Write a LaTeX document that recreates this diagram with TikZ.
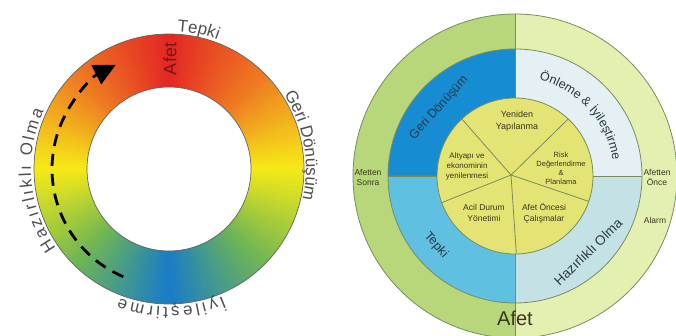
\documentclass[tikz,border=0pt]{standalone}
\usepackage{fontspec}
\setmainfont{Liberation Sans}
\usetikzlibrary{arrows.meta,decorations.text,calc}
\definecolor{rc0}{RGB}{228,38,36}
\definecolor{rc1}{RGB}{238,122,34}
\definecolor{rc2}{RGB}{246,234,22}
\definecolor{rc3}{RGB}{112,182,84}
\definecolor{rc4}{RGB}{24,124,200}
\definecolor{lblgray}{RGB}{78,78,84}
\definecolor{afetred}{RGB}{120,22,26}
\definecolor{ringedge}{RGB}{100,100,100}
\definecolor{outgreen}{RGB}{184,215,122}
\definecolor{outlight}{RGB}{228,240,178}
\definecolor{qblue}{RGB}{22,140,210}
\definecolor{qlblue}{RGB}{96,192,226}
\definecolor{qpale}{RGB}{228,240,244}
\definecolor{qpale2}{RGB}{196,226,230}
\definecolor{pieyellow}{RGB}{228,228,116}
\definecolor{rline}{RGB}{120,140,96}
\definecolor{pietext}{RGB}{58,54,32}
\definecolor{ringtext}{RGB}{44,56,66}
\newcommand\biglbl{\fontsize{17}{17}\selectfont\color{lblgray}}
\newcommand\ringlbl{\fontsize{12.5}{12.5}\selectfont\color{ringtext}}
\tikzset{
  ringline/.style={draw=ringedge, line width=0.7pt},
  cyclearrow/.style={line width=2.8pt, dash pattern=on 12pt off 8pt, -{Triangle[length=22pt,width=21pt]}},
  sepline/.style={draw=rline, line width=0.8pt},
  pietxt/.style={text=pietext, align=center, inner sep=0pt, font=\fontsize{8}{10}\selectfont},
  pietxtb/.style={text=pietext, align=center, inner sep=0pt, font=\fontsize{9}{11.5}\selectfont},
  outtxt/.style={text=pietext, align=center, inner sep=0pt, font=\fontsize{8.5}{10}\selectfont},
  ringtxt/.style={text=ringtext, inner sep=0pt, font=\fontsize{12.5}{12.5}\selectfont},
}
\begin{document}
\begin{tikzpicture}[x=1pt,y=1pt]
\useasboundingbox (0,0) rectangle (676,336);
% ---------------- left: gradient cycle ----------------
\begin{scope}[shift={(169,167)}]
\foreach \wA in {0,2,...,358}{
  \pgfmathsetmacro\wE{\wA+1-90}
  \pgfmathsetmacro\wD{ifthenelse(\wE>180,360-\wE,abs(\wE))}
  \pgfmathtruncatemacro\wK{min(3,floor(\wD/45))}
  \pgfmathtruncatemacro\wKK{\wK+1}
  \pgfmathtruncatemacro\wT{round((\wD-45*\wK)/45*100)}
  \pgfmathsetmacro\wB{\wA+2.4}
  \colorlet{wedgecol}{rc\wKK!\wT!rc\wK}
  \fill[wedgecol] (\wA:135) arc[start angle=\wA,end angle=\wB,radius=135] -- (\wB:82) arc[start angle=\wB,end angle=\wA,radius=82] -- cycle;
}
\draw[ringline] (0,0) circle[radius=135];
\draw[ringline] (0,0) circle[radius=82];
\draw[cyclearrow] (247:117) arc[start angle=247,end angle=117,radius=117];
\node[rotate=90, text=afetred, font=\fontsize{18}{18}\selectfont, inner sep=0pt] (lafet) at (1,110) {Afet};
\path[decorate,decoration={text along path,text align=center,text format delimiters={|}{|},text={|\biglbl|Tepki}}]
  (118:138) arc[start angle=118,end angle=38,radius=138];
\path[decorate,decoration={text along path,text align=center,text format delimiters={|}{|},text={|\biglbl|Geri Dönüşüm}}]
  (60:137) arc[start angle=60,end angle=-40,radius=137];
\path[decorate,decoration={text along path,text align=fit to path,text format delimiters={|}{|},text={|\biglbl|Hazırlıklı Olma}}]
  (215:138) arc[start angle=215,end angle=155,radius=138];
\path[decorate,decoration={text along path,text align=fit to path,text format delimiters={|}{|},text={|\biglbl|İyileştirme}}]
  (-67:138) arc[start angle=-67,end angle=-111,radius=138];
\end{scope}
% ---------------- right: disaster management wheel ----------------
\begin{scope}[shift={(515,160)}]
\fill[outgreen] (90:162) arc[start angle=90,end angle=270,radius=162] -- cycle;
\fill[outlight] (-90:162) arc[start angle=-90,end angle=90,radius=162] -- cycle;
\fill[qblue] (0,0) -- (90:127) arc[start angle=90,end angle=180,radius=127] -- cycle;
\fill[qlblue] (0,0) -- (180:127) arc[start angle=180,end angle=270,radius=127] -- cycle;
\fill[qpale2] (0,0) -- (270:127) arc[start angle=270,end angle=360,radius=127] -- cycle;
\fill[qpale] (0,0) -- (0:127) arc[start angle=0,end angle=90,radius=127] -- cycle;
\fill[pieyellow] (0,0) circle[radius=78];
\draw[sepline] (0,0) circle[radius=162];
\draw[sepline] (0,0) circle[radius=127];
\draw[sepline] (0,0) circle[radius=78];
\draw[sepline] (90:162) -- (90:78);
\draw[sepline] (-90:78) -- (-90:162);
\draw[sepline] (180:127) -- (180:78);
\draw[sepline] (0:78) -- (0:127);
\coordinate (P) at (-4,1);
\draw[sepline] (P) -- (133:78);
\draw[sepline] (P) -- (47:78);
\draw[sepline] (P) -- (-19:78);
\draw[sepline] (P) -- (-89:78);
\draw[sepline] (P) -- (200:78);
\path[decorate,decoration={text along path,text align=center,text format delimiters={|}{|},text={|\ringlbl|Önleme {\&} İyileştirme}}]
  (85:99) arc[start angle=85,end angle=0,radius=99];
\end{scope}
\node[ringtxt, rotate=48] (geri) at (439,228) {Geri Dönüşüm};
\node[ringtxt, rotate=-49] (tepki) at (436,91) {Tepki};
\node[ringtxt, rotate=44, font=\fontsize{13.5}{13.5}\selectfont] (hazir) at (588,84) {Hazırlıklı Olma};
\node[pietxtb] (yeniden) at (517,215) {Yeniden\\Yapılanma};
\node[pietxt] (altyapi) at (467,170) {Altyapı ve\\ekonominin\\yenilenmesi};
\node[pietxt, font=\fontsize{7.5}{9}\selectfont] (risk) at (561,168) {Risk\\Değerlendirme\\\&\\Planlama};
\node[pietxtb, font=\fontsize{8.5}{11}\selectfont] (acil) at (484,123) {Acil Durum\\Yönetimi};
\node[pietxtb, font=\fontsize{8.5}{11}\selectfont] (oncesi) at (544,123) {Afet Öncesi\\Çalışmalar};
\node[outtxt] (sonra) at (368,159) {Afetten\\Sonra};
\node[outtxt] (once) at (657,159) {Afetten\\Önce};
\node[outtxt] (alarm) at (655,116) {Alarm};
\node[text=pietext, font=\fontsize{20}{20}\selectfont, inner sep=0pt] (afet) at (515,18) {Afet};
\end{tikzpicture}
\end{document}
